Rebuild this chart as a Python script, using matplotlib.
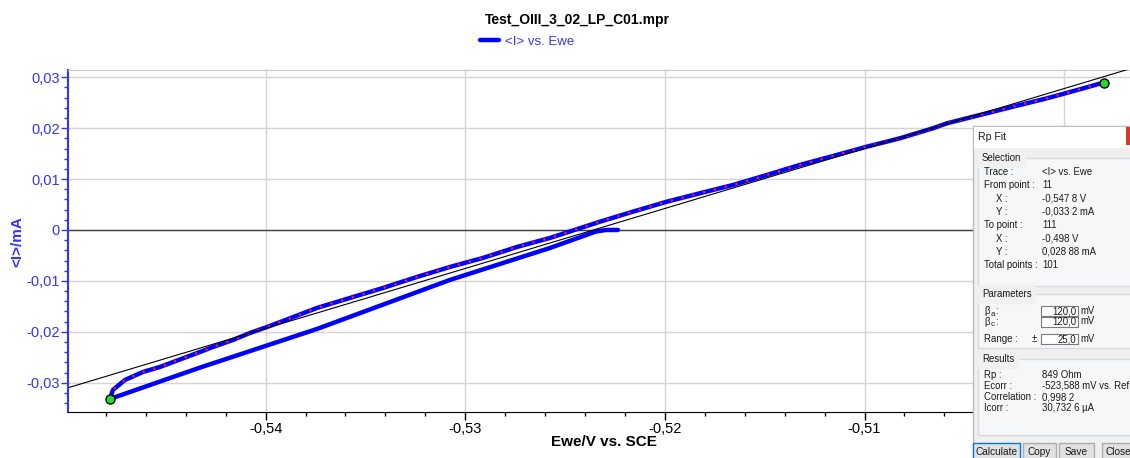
"""
Rp fit screenshot (EC-Lab) redrawn with matplotlib.
Writes out.png (1130 x 458).
"""

import matplotlib
matplotlib.use("Agg")
import matplotlib.pyplot as plt
import matplotlib.ticker as mticker
from matplotlib.patches import Rectangle

# ── Data ──────────────────────────────────────────────────────
# forward sweep: from OCV down to the lower vertex
lower_e = [-0.52235, -0.52295, -0.52345, -0.52576, -0.53077, -0.53743,
           -0.54329, -0.5478]
lower_i = [0.0, 0.0, -0.0003, -0.00354, -0.00982, -0.01945,
           -0.02704, -0.0332]

# return sweep: lower vertex up to the upper vertex (this is the fitted trace)
upper_e = [-0.5478, -0.54765, -0.54705, -0.54615, -0.54530, -0.54329,
           -0.54264, -0.54164, -0.54079, -0.53993, -0.53913, -0.53743,
           -0.53578, -0.53412, -0.53242, -0.53077, -0.52912, -0.52741,
           -0.52576, -0.52325, -0.52160, -0.51990, -0.51825, -0.51659,
           -0.51489, -0.51325, -0.51157, -0.50988, -0.50822, -0.50657,
           -0.50587, -0.50422, -0.50256, -0.50086, -0.49921, -0.4981]
upper_i = [-0.0332, -0.03143, -0.02947, -0.02790, -0.02692, -0.02397,
           -0.02299, -0.02161, -0.02024, -0.01906, -0.01788, -0.01532,
           -0.01336, -0.01139, -0.00923, -0.00727, -0.00550, -0.00334,
           -0.00157, 0.00163, 0.00360, 0.00556, 0.00721, 0.00884,
           0.01081, 0.01277, 0.01454, 0.01637, 0.01802, 0.01998,
           0.02096, 0.02259, 0.02422, 0.02587, 0.02764, 0.02888]

# Rp fit line (849 Ohm through Ecorr), end points
fit_e = [-0.5499, -0.4967]
fit_i = [-0.0310, 0.03167]

# selected from / to points
sel_e = [-0.5478, -0.4980]
sel_i = [-0.0332, 0.02888]

# dialog contents
sel_labels = ["Trace :", "From point :", "X :", "Y :", "To point :", "X :", "Y :",
              "Total points :"]
sel_values = ["<I> vs. Ewe", "11", "-0,547 8 V", "-0,033 2 mA", "111", "-0,498 V",
              "0,028 88 mA", "101"]
sel_indent = [0, 0, 1, 1, 0, 1, 1, 0]
par_values = ["120,0", "120,0", "25,0"]
res_labels = ["Rp :", "Ecorr :", "Correlation :", "Icorr :"]
res_values = ["849 Ohm", "-523,588 mV vs. Ref", "0,998 2", "30,732 6 µA"]
buttons = ["Calculate", "Copy", "Save", "Close"]

# ── Style ─────────────────────────────────────────────────────
plt.rcParams["font.family"] = ["Liberation Sans", "DejaVu Sans"]
BLUE_TXT = "#3535f0"
TRACE = "#0000ff"
W, H = 1130, 458


def comma(x, _):
    if abs(x) < 1e-9:
        return "0"
    return f"{x:.2f}".replace(".", ",")


fig = plt.figure(figsize=(W / 100, H / 100), dpi=100, facecolor="white")
ax = fig.add_axes([68 / W, (H - 412) / H, (W - 68) / W, 342 / H])
ax.set_xlim(-0.5499, -0.4967)
ax.set_ylim(-0.03576, 0.03143)

ax.xaxis.set_major_locator(mticker.MultipleLocator(0.01))
ax.xaxis.set_minor_locator(mticker.MultipleLocator(0.002))
ax.yaxis.set_major_locator(mticker.MultipleLocator(0.01))
ax.yaxis.set_minor_locator(mticker.MultipleLocator(0.002))
ax.xaxis.set_major_formatter(mticker.FuncFormatter(comma))
ax.yaxis.set_major_formatter(mticker.FuncFormatter(comma))

ax.tick_params(axis="x", which="major", length=6, width=1, colors="black",
               labelsize=10.5, pad=1.5)
ax.tick_params(axis="x", which="minor", length=3, width=1, colors="black")
ax.tick_params(axis="y", which="major", length=5, width=1, color=BLUE_TXT,
               labelcolor=BLUE_TXT, labelsize=10.5, pad=1)
ax.tick_params(axis="y", which="minor", length=3, width=1, color=BLUE_TXT)

ax.grid(which="major", color="#d4d4d4", linewidth=1)
ax.set_axisbelow(True)
ax.axhline(0, color="#404040", linewidth=1, zorder=1)

ax.spines["left"].set_color(BLUE_TXT)
ax.spines["left"].set_linewidth(1.5)
ax.spines["bottom"].set_color("black")
ax.spines["top"].set_color("#c8c8c8")
ax.spines["right"].set_visible(False)

# ── Traces ────────────────────────────────────────────────────
ax.plot(lower_e + upper_e[1:], lower_i + upper_i[1:], color=TRACE,
        linewidth=3.2, solid_capstyle="round", solid_joinstyle="round",
        zorder=3, label="<I> vs. Ewe")
ax.plot(upper_e, upper_i, color="#ff2020", linewidth=1.6,
        linestyle=(0, (1, 4)), zorder=4)
ax.plot(fit_e, fit_i, color="black", linewidth=0.8, zorder=5)
ax.plot(sel_e, sel_i, linestyle="none", marker="o", markersize=6.5,
        markerfacecolor="#22dd22", markeredgecolor="black",
        markeredgewidth=1, zorder=6)

# ── Titles and labels ─────────────────────────────────────────
fig.text(577 / W, 1 - 20 / H, "Test_OIII_3_02_LP_C01.mpr", ha="center",
         va="center", fontsize=10, fontweight="bold")
fig.text(604 / W, 1 - 442 / H, "Ewe/V vs. SCE", ha="center", va="center",
         fontsize=11, fontweight="bold")
fig.text(17 / W, 1 - 242 / H, "<I>/mA", ha="center", va="center",
         rotation=90, fontsize=11, fontweight="bold", color=BLUE_TXT)
ax.legend(loc="center", bbox_to_anchor=(527 / W, 1 - 42 / H),
          bbox_transform=fig.transFigure, frameon=False, fontsize=9.5,
          handlelength=1.45, handletextpad=0.45, labelcolor=BLUE_TXT,
          borderpad=0)

# ── Rp Fit dialog (drawn in pixel coords on an overlay) ───────
ov = fig.add_axes([0, 0, 1, 1], zorder=10)
ov.set_xlim(0, W)
ov.set_ylim(H, 0)
ov.axis("off")
ov.patch.set_alpha(0)

FS = 6.9
TXT = "#1a1a1a"


def box(x0, y0, x1, y1, fc, ec="none", lw=1.0):
    ov.add_patch(Rectangle((x0, y0), x1 - x0, y1 - y0, facecolor=fc,
                           edgecolor=ec, linewidth=lw))


def label(x, y, s, **kw):
    kw.setdefault("fontsize", FS)
    kw.setdefault("color", TXT)
    ov.text(x, y, s, va="center", **kw)


box(973, 126, 1140, 470, "#f0f0f0", "#bcbcbc")
box(974, 127, 1140, 148, "white")
box(1126, 127, 1140, 145, "#d9382b")
label(978, 137, "Rp Fit", fontsize=7.6)

# group boxes
for y0, y1, name in [(158, 286, "Selection"), (294, 348, "Parameters"),
                     (359, 435, "Results")]:
    box(978, y0, 1140, y1, "#f6f7f9", "#d6d9de")
    label(982, y0, name, backgroundcolor="#f0f0f0")

for k, (lab, val) in enumerate(zip(sel_labels, sel_values)):
    y = 172 + k * 13.3
    label(996 if sel_indent[k] else 984, y, lab)
    label(1042, y, val)

# parameters with entry fields
label(984, 311, "β")
label(990.5, 314, "a", fontsize=5.6)
label(995, 311, ":")
label(984, 322, "β")
label(990.5, 325, "c", fontsize=5.6)
label(995, 322, ":")
label(984, 339, "Range :")
label(1032, 339, "±")
for (y0, y1), val in zip([(306, 316), (316.5, 326.5), (334, 344)], par_values):
    box(1041, y0, 1078, y1, "white", "#7a7a7a", 0.8)
    label(1076, (y0 + y1) / 2, val, ha="right")
    label(1080, (y0 + y1) / 2, "mV")

for k, (lab, val) in enumerate(zip(res_labels, res_values)):
    y = 375 + k * 11
    label(984, y, lab)
    label(1042, y, val)

# buttons
for (x0, x1), name in zip([(973, 1020), (1023, 1056), (1059, 1094), (1102, 1145)],
                          buttons):
    edge = "#0078d7" if name == "Calculate" else "#adadad"
    box(x0, 443, x1, 462, "#e1e1e1", edge, 1.0)
    if name == "Close":
        label(1105, 452, name, ha="left", fontsize=7.3)
    else:
        label((x0 + x1) / 2, 452, name, ha="center", fontsize=7.3)

fig.savefig("out.png", dpi=100, facecolor="white")
